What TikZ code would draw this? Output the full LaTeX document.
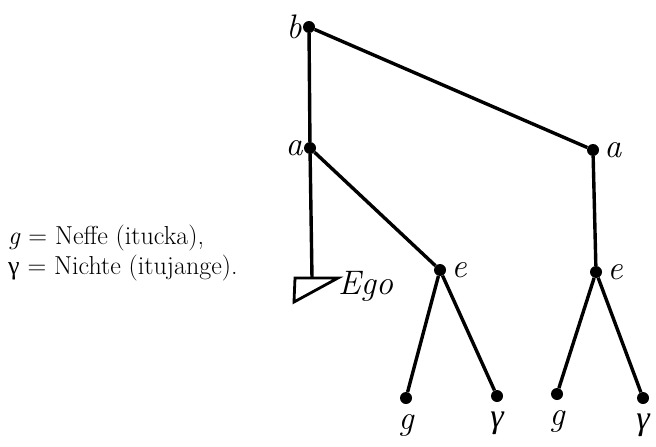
\documentclass[tikz,border=0pt]{standalone}
\usepackage{fontspec}
\newfontfamily\greekit{Liberation Serif}
\usetikzlibrary{positioning}

\begin{document}
\begin{tikzpicture}[
  x=1pt, y=-1pt,
  dot/.style={circle, fill=black, inner sep=0pt, minimum size=12pt},
  edge/.style={line width=3.4pt},
  lbl/.style={font=\fontsize{34}{36}\selectfont\itshape, inner sep=1pt},
  leaf/.style={lbl, anchor=base, yshift=-31pt},
  legend/.style={font=\fontsize{26}{30}\selectfont, anchor=west, inner sep=0pt}
]
  \useasboundingbox (0,0) rectangle (656,447);

  % Nodes
  \node[dot] (b)  at (309,27)  {};
  \node[dot] (a1) at (310,148) {};
  \node[dot] (a2) at (593,150) {};
  \node[dot] (e1) at (440,270) {};
  \node[dot] (e2) at (596,272) {};
  \node[dot] (g1) at (406,398) {};
  \node[dot] (n1) at (497,396) {};
  \node[dot] (g2) at (557,394) {};
  \node[dot] (n2) at (643,398) {};
  \coordinate (ego) at (312,278);

  % Labels
  \node[lbl, left=0pt of b]   {b};
  \node[lbl, left=0pt of a1]  {a};
  \node[lbl, right=4pt of a2] {a};
  \node[lbl, right=4pt of e1] {e};
  \node[lbl, right=4pt of e2] {e};
  \node[leaf] at (g1) {g};
  \node[leaf] at (n1) {\greekit γ};
  \node[leaf] at (g2) {g};
  \node[leaf] at (n2) {\greekit γ};
  \node[lbl, anchor=west] (egolbl) at (337,286) {Ego};

  % Legend
  \node[legend] (l1) at (8,238) {\textit{g} = Neffe (itucka),};
  \node[legend] (l2) at (8,268) {{\greekit γ} = Nichte (itujange).};

  % Edges
  \draw[edge] (b) -- (a1);
  \draw[edge] (b) -- (a2);
  \draw[edge] (a1) -- (e1);
  \draw[edge] (a2) -- (e2);
  \draw[edge] (a1) -- (ego);
  \draw[edge] (e1) -- (g1);
  \draw[edge] (e1) -- (n1);
  \draw[edge] (e2) -- (g2);
  \draw[edge] (e2) -- (n2);

  % Ego triangle
  \draw[line width=2.8pt, line join=miter] (295,278) -- (338,278) -- (294,302) -- cycle;
\end{tikzpicture}
\end{document}
